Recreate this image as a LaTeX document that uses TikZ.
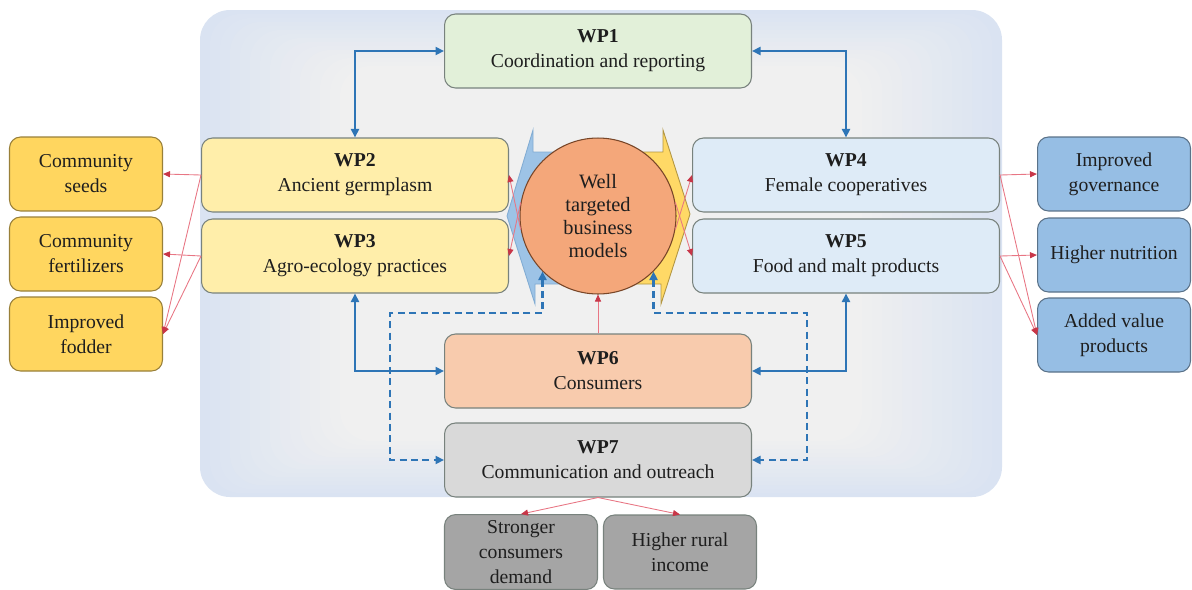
\documentclass[tikz,border=0pt]{standalone}
\usepackage{fontspec}
\setmainfont{Liberation Serif}
\usetikzlibrary{arrows.meta}
\definecolor{bgblue}{RGB}{218,227,242}
\definecolor{bggrey}{RGB}{240,240,240}
\definecolor{boxline}{RGB}{120,130,125}
\definecolor{textcol}{RGB}{30,30,30}
\definecolor{wpgreen}{RGB}{226,240,217}
\definecolor{wpyellow}{RGB}{255,238,170}
\definecolor{wplblue}{RGB}{222,235,247}
\definecolor{wporange}{RGB}{248,203,173}
\definecolor{wpgrey}{RGB}{217,217,217}
\definecolor{outgold}{RGB}{255,214,95}
\definecolor{outblue}{RGB}{150,190,228}
\definecolor{outgrey}{RGB}{165,165,165}
\definecolor{circfill}{RGB}{244,167,122}
\definecolor{circline}{RGB}{120,70,40}
\definecolor{arrblue}{RGB}{157,195,230}
\definecolor{arryellow}{RGB}{255,217,102}
\definecolor{linkblue}{RGB}{46,117,182}
\definecolor{linkred}{RGB}{222,60,80}

\begin{document}
\begin{tikzpicture}[x=0.02cm,y=-0.02cm,
  wpbox/.style={draw=boxline,line width=0.6pt,rounded corners=0.22cm,minimum width=6.14cm,minimum height=1.48cm,align=center,text=textcol,font=\fontsize{11.2}{14.2}\selectfont},
  outbox/.style={wpbox,minimum width=3.06cm},
  link/.style={draw=linkblue,line width=1.3pt,{Triangle[length=1.7mm,width=1.6mm]}-{Triangle[length=1.7mm,width=1.6mm]}},
  dlink/.style={link,dashed,dash pattern=on 4pt off 2.5pt},
  redarrow/.style={draw=linkred!70,line width=0.5pt,-{Triangle[length=1.4mm,width=1.2mm,color=linkred!90!black,fill=linkred!90!black]}}]
\useasboundingbox (0,0) rectangle (1192,589);

% background panel
\foreach \i in {0,...,14} {
  \pgfmathsetmacro\p{\i/14*100}
  \fill[bggrey!\p!bgblue,rounded corners=0.6cm] (200+\i*10,10+\i*4) rectangle (1002-\i*10,497-\i*4);
}

% arrow shapes behind the circle
\filldraw[fill=arrblue,draw=linkblue!60,line width=0.5pt] (598,152) -- (533,152) -- (533,130) -- (507,216) -- (535,304) -- (535,284) -- (598,284) -- cycle;
\filldraw[fill=arryellow,draw=outgold!70!black,line width=0.5pt] (598,152) -- (663,152) -- (663,130) -- (690,214) -- (661,304) -- (661,284) -- (598,284) -- cycle;

% work packages
\node[wpbox,fill=wpgreen] (wp1) at (598,51) {\textbf{WP1}\\Coordination and reporting};
\node[wpbox,fill=wpyellow] (wp2) at (355,175) {\textbf{WP2}\\Ancient germplasm};
\node[wpbox,fill=wpyellow] (wp3) at (355,256) {\textbf{WP3}\\Agro-ecology practices};
\node[wpbox,fill=wplblue] (wp4) at (846,175) {\textbf{WP4}\\Female cooperatives};
\node[wpbox,fill=wplblue] (wp5) at (846,256) {\textbf{WP5}\\Food and malt products};
\node[wpbox,fill=wporange] (wp6) at (598,371) {\textbf{WP6}\\Consumers};
\node[wpbox,fill=wpgrey] (wp7) at (598,460) {\textbf{WP7}\\Communication and outreach};

\node[circle,draw=circline,line width=0.6pt,fill=circfill,minimum size=3.12cm,align=center,text=textcol,font=\fontsize{11.6}{13.2}\selectfont] (wbm) at (598,216) {Well\\targeted\\business\\models};

% outcomes
\node[outbox,fill=outgold,draw=outgold!60!black] (seeds) at (86,174) {Community\\seeds};
\node[outbox,fill=outgold,draw=outgold!60!black] (fert) at (86,254) {Community\\fertilizers};
\node[outbox,fill=outgold,draw=outgold!60!black] (fodder) at (86,334) {Improved\\fodder};
\node[outbox,fill=outblue,draw=outblue!60!black] (gov) at (1114,174) {Improved\\governance};
\node[outbox,fill=outblue,draw=outblue!60!black] (nutr) at (1114,255) {Higher nutrition};
\node[outbox,fill=outblue,draw=outblue!60!black] (added) at (1114,335) {Added value\\products};
\node[outbox,fill=outgrey] (demand) at (521,552) {Stronger\\consumers\\demand};
\node[outbox,fill=outgrey] (income) at (680,552) {Higher rural\\income};

% blue links
\draw[link] (wp2.north) |- (wp1.west);
\draw[link] (wp4.north) |- (wp1.east);
\draw[link] (wp3.south) |- (wp6.west);
\draw[link] (wp5.south) |- (wp6.east);

\coordinate (dashl) at (390,313);
\coordinate (dashr) at (807,313);
\draw[dlink] (wbm.225) |- (dashl) |- (wp7.west);
\draw[dlink] (wbm.-45) |- (dashr) |- (wp7.east);

% red arrows
\draw[redarrow] (wp6.north) -- (wbm.south);
\draw[redarrow] (wbm.170) -- (wp3.east);
\draw[redarrow] (wbm.190) -- (wp2.east);
\draw[redarrow] (wbm.10) -- (wp5.west);
\draw[redarrow] (wbm.-10) -- (wp4.west);

\draw[redarrow] (wp2.west) -- (seeds.east);
\draw[redarrow] (wp2.west) -- (fodder.east);
\draw[redarrow] (wp3.west) -- (fert.east);
\draw[redarrow] (wp3.west) -- (fodder.east);
\draw[redarrow] (wp4.east) -- (gov.west);
\draw[redarrow] (wp4.east) -- (added.west);
\draw[redarrow] (wp5.east) -- (nutr.west);
\draw[redarrow] (wp5.east) -- (added.west);
\draw[redarrow] (wp7.south) -- (demand.north);
\draw[redarrow] (wp7.south) -- (income.north);
\end{tikzpicture}
\end{document}
